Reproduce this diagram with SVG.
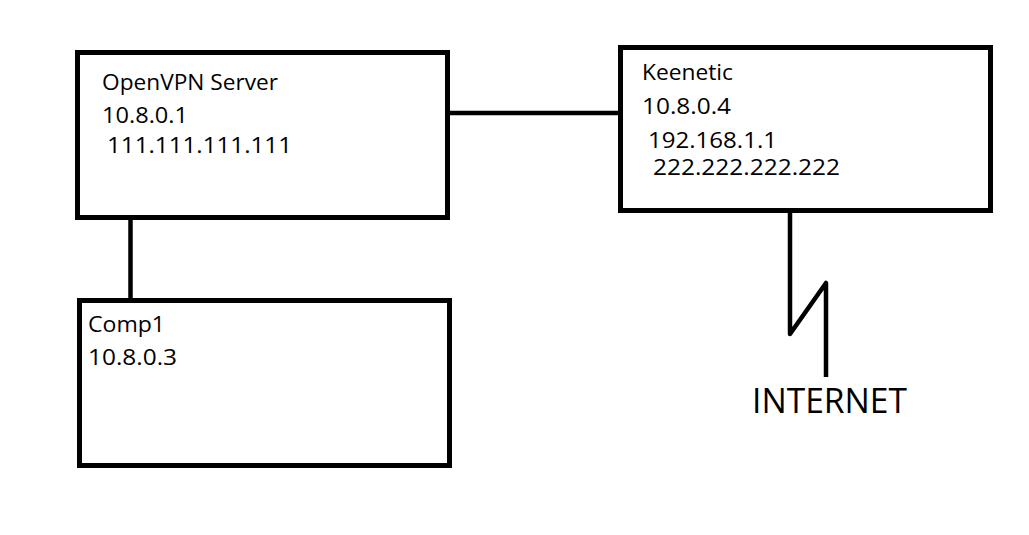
<svg xmlns="http://www.w3.org/2000/svg" width="1029" height="535" viewBox="0 0 1029 535">
<style>
.box{fill:#fff;stroke:#000;stroke-width:5}
.wire{fill:none;stroke:#000;stroke-width:4.5;stroke-linejoin:round}
.t{font-family:"Open Sans","Liberation Sans",sans-serif;font-size:21px;fill:#000}
.big{font-family:"Open Sans","Liberation Sans",sans-serif;font-size:34px;fill:#000}
</style>
<rect width="1029" height="535" fill="#fff"/>
<g id="connectors">
<line class="wire" x1="447" y1="113" x2="620" y2="113"/>
<line class="wire" x1="130.5" y1="218" x2="130.5" y2="300"/>
<polyline class="wire" points="790,211 790,334 826,283 826,377"/>
</g>
<g id="openvpn">
<rect class="box" x="77.5" y="52.5" width="370" height="165"/>
<text class="t" x="102" y="90" textLength="176" lengthAdjust="spacingAndGlyphs">OpenVPN Server</text>
<text class="t" x="102" y="123" textLength="86" lengthAdjust="spacingAndGlyphs">10.8.0.1</text>
<text class="t" x="107" y="153" textLength="185" lengthAdjust="spacingAndGlyphs">111.111.111.111</text>
</g>
<g id="keenetic">
<rect class="box" x="620.5" y="47.5" width="370" height="163"/>
<text class="t" x="642" y="80" textLength="91" lengthAdjust="spacingAndGlyphs">Keenetic</text>
<text class="t" x="642" y="114" textLength="89" lengthAdjust="spacingAndGlyphs">10.8.0.4</text>
<text class="t" x="648" y="148" textLength="129" lengthAdjust="spacingAndGlyphs">192.168.1.1</text>
<text class="t" x="653" y="175" textLength="187" lengthAdjust="spacingAndGlyphs">222.222.222.222</text>
</g>
<g id="comp1">
<rect class="box" x="79.5" y="300.5" width="370" height="165"/>
<text class="t" x="88" y="332" textLength="77" lengthAdjust="spacingAndGlyphs">Comp1</text>
<text class="t" x="88" y="365" textLength="89" lengthAdjust="spacingAndGlyphs">10.8.0.3</text>
</g>
<g id="internet">
<text class="big" x="752" y="413" textLength="155" lengthAdjust="spacingAndGlyphs">INTERNET</text>
</g>
</svg>
